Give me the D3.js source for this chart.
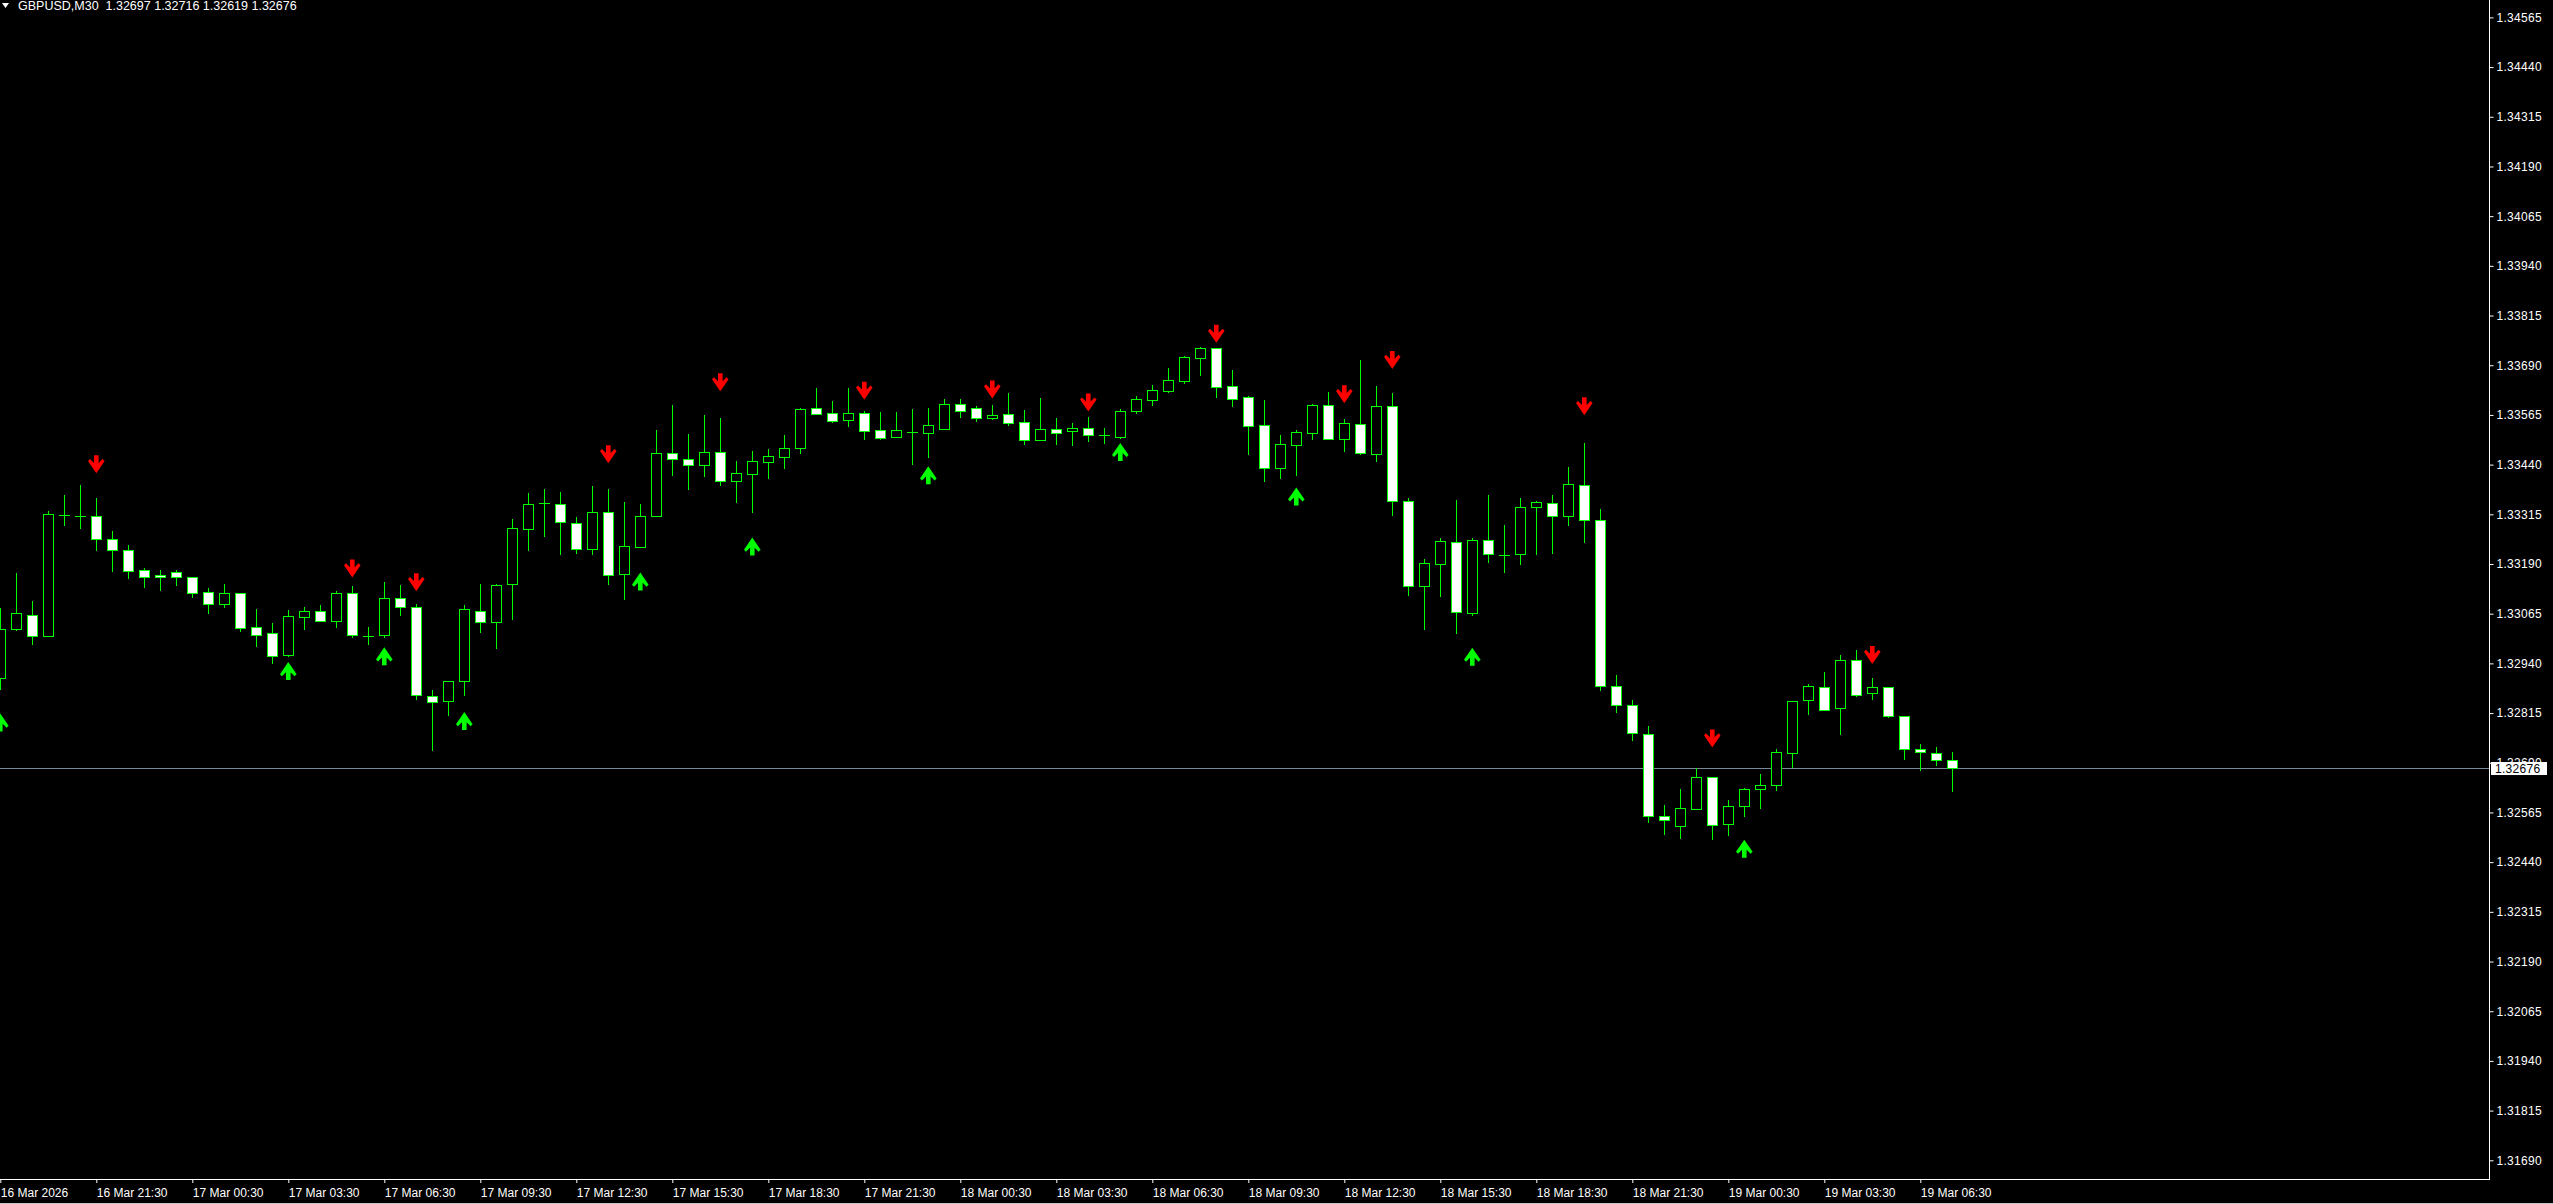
<!DOCTYPE html>
<html><head><meta charset="utf-8">
<script src="https://cdn.jsdelivr.net/npm/d3@7"></script>
<style>html,body{margin:0;padding:0;background:#000;overflow:hidden}svg{display:block}</style>
</head><body><svg id="c" width="2553" height="1204"></svg>
<script>
// ---------------- DATA ----------------
const symbolTitle = "GBPUSD,M30";
const headerOHLC = [1.32697, 1.32716, 1.32619, 1.32676];
const firstBarTime = "2026-03-16 18:30";
const opens = [1.32902,1.33027,1.33061,1.33010,1.33313,1.33312,1.33312,1.33252,1.33224,1.33174,
1.33162,1.33169,1.33157,1.33119,1.33090,1.33116,1.33031,1.33016,1.32962,1.33057,
1.33071,1.33047,1.33116,1.33010,1.33011,1.33104,1.33081,1.32859,1.32845,1.32895,
1.33072,1.33043,1.33139,1.33277,1.33343,1.33342,1.33294,1.33228,1.33321,1.33164,
1.33234,1.33312,1.33468,1.33455,1.33440,1.33471,1.33400,1.33417,1.33447,1.33460,
1.33482,1.33582,1.33569,1.33553,1.33569,1.33526,1.33510,1.33521,1.33520,1.33530,
1.33592,1.33582,1.33558,1.33567,1.33546,1.33503,1.33529,1.33525,1.33532,1.33514,
1.33509,1.33576,1.33603,1.33626,1.33651,1.33709,1.33733,1.33637,1.33609,1.33539,
1.33432,1.33490,1.33520,1.33589,1.33505,1.33541,1.33467,1.33587,1.33348,1.33135,
1.33191,1.33245,1.33067,1.33250,1.33213,1.33214,1.33333,1.33343,1.33312,1.33388,
1.33300,1.32883,1.32835,1.32762,1.32555,1.32532,1.32574,1.32653,1.32535,1.32580,
1.32623,1.32633,1.32714,1.32847,1.32880,1.32827,1.32948,1.32865,1.32880,1.32807,
1.32724,1.32714,1.32697];
const highs = [1.33079,1.33167,1.33096,1.33323,1.33364,1.33389,1.33356,1.33273,1.33237,1.33180,
1.33175,1.33175,1.33157,1.33130,1.33140,1.33118,1.33077,1.33042,1.33074,1.33081,
1.33087,1.33122,1.33135,1.33031,1.33144,1.33136,1.33089,1.32873,1.32896,1.33086,
1.33140,1.33139,1.33302,1.33368,1.33378,1.33370,1.33307,1.33386,1.33378,1.33345,
1.33341,1.33527,1.33590,1.33517,1.33565,1.33557,1.33449,1.33474,1.33479,1.33514,
1.33582,1.33633,1.33600,1.33633,1.33575,1.33572,1.33572,1.33580,1.33582,1.33605,
1.33605,1.33587,1.33590,1.33620,1.33577,1.33608,1.33557,1.33545,1.33560,1.33532,
1.33579,1.33613,1.33640,1.33683,1.33712,1.33735,1.33734,1.33678,1.33613,1.33603,
1.33514,1.33527,1.33592,1.33623,1.33555,1.33703,1.33638,1.33620,1.33355,1.33203,
1.33255,1.33351,1.33255,1.33364,1.33288,1.33356,1.33348,1.33364,1.33434,1.33494,
1.33328,1.32911,1.32848,1.32782,1.32583,1.32624,1.32676,1.32654,1.32596,1.32626,
1.32663,1.32724,1.32846,1.32887,1.32918,1.32961,1.32974,1.32902,1.32881,1.32808,
1.32737,1.32730,1.32716];
const lows = [1.32875,1.33024,1.32989,1.33010,1.33288,1.33281,1.33225,1.33173,1.33156,1.33133,
1.33125,1.33138,1.33108,1.33067,1.33083,1.33022,1.32984,1.32942,1.32959,1.33026,
1.33046,1.33032,1.33006,1.32989,1.33007,1.33062,1.32851,1.32722,1.32810,1.32861,
1.33020,1.32979,1.33052,1.33226,1.33261,1.33216,1.33218,1.33216,1.33140,1.33103,
1.33234,1.33312,1.33414,1.33379,1.33412,1.33389,1.33346,1.33321,1.33407,1.33432,
1.33470,1.33567,1.33547,1.33537,1.33504,1.33504,1.33510,1.33441,1.33459,1.33530,
1.33560,1.33550,1.33555,1.33540,1.33492,1.33503,1.33492,1.33489,1.33500,1.33495,
1.33507,1.33570,1.33590,1.33623,1.33646,1.33665,1.33610,1.33587,1.33467,1.33399,
1.33407,1.33414,1.33505,1.33504,1.33474,1.33467,1.33449,1.33314,1.33112,1.33026,
1.33110,1.33017,1.33062,1.33196,1.33171,1.33191,1.33216,1.33218,1.33289,1.33246,
1.32873,1.32818,1.32747,1.32542,1.32512,1.32501,1.32573,1.32499,1.32509,1.32557,
1.32577,1.32622,1.32680,1.32813,1.32823,1.32763,1.32859,1.32851,1.32806,1.32699,
1.32672,1.32684,1.32619];
const closes = [1.33026,1.33066,1.33010,1.33315,1.33313,1.33312,1.33252,1.33224,1.33173,1.33157,
1.33157,1.33157,1.33118,1.33090,1.33116,1.33030,1.33012,1.32959,1.33058,1.33071,
1.33047,1.33116,1.33011,1.33010,1.33104,1.33081,1.32860,1.32842,1.32895,1.33076,
1.33043,1.33136,1.33280,1.33340,1.33343,1.33295,1.33229,1.33320,1.33162,1.33236,
1.33312,1.33468,1.33455,1.33438,1.33471,1.33400,1.33418,1.33448,1.33461,1.33483,
1.33579,1.33568,1.33550,1.33569,1.33525,1.33508,1.33526,1.33521,1.33539,1.33592,
1.33576,1.33558,1.33564,1.33545,1.33503,1.33529,1.33520,1.33532,1.33515,1.33514,
1.33574,1.33604,1.33627,1.33652,1.33710,1.33733,1.33636,1.33606,1.33538,1.33432,
1.33491,1.33521,1.33589,1.33505,1.33544,1.33470,1.33587,1.33349,1.33134,1.33192,
1.33247,1.33070,1.33250,1.33214,1.33213,1.33333,1.33345,1.33312,1.33390,1.33300,
1.32883,1.32835,1.32765,1.32557,1.32545,1.32575,1.32653,1.32533,1.32580,1.32623,
1.32633,1.32716,1.32845,1.32882,1.32824,1.32948,1.32861,1.32880,1.32807,1.32724,
1.32716,1.32696,1.32676];
// signal arrows (bar index, price level of arrow centre)
const sellBars   = [6,22,26,38,45,54,62,68,76,84,87,99,107,117];
const sellLevels = [1.33441,1.33179,1.33144,1.33466,1.33647,1.33626,1.33629,1.33596,1.33769,1.33617,1.33703,1.33587,1.32751,1.32961];
const buyBars    = [0,18,24,29,40,47,58,70,81,92,109];
const buyLevels  = [1.32791,1.32921,1.32958,1.32795,1.33146,1.33234,1.33413,1.33472,1.33360,1.32957,1.32474];
const priceTicks = [1.34565,1.34440,1.34315,1.34190,1.34065,1.33940,1.33815,1.33690,1.33565,1.33440,
1.33315,1.33190,1.33065,1.32940,1.32815,1.32690,1.32565,1.32440,1.32315,1.32190,1.32065,1.31940,1.31815,1.31690];
const timeTickBars   = [0,6,12,18,24,30,36,42,48,54,60,66,72,78,84,90,96,102,108,114,120];
const timeTickLabels = ["16 Mar 2026","16 Mar 21:30","17 Mar 00:30","17 Mar 03:30","17 Mar 06:30","17 Mar 09:30",
"17 Mar 12:30","17 Mar 15:30","17 Mar 18:30","17 Mar 21:30","18 Mar 00:30","18 Mar 03:30","18 Mar 06:30",
"18 Mar 09:30","18 Mar 12:30","18 Mar 15:30","18 Mar 18:30","18 Mar 21:30","19 Mar 00:30","19 Mar 03:30","19 Mar 06:30"];
const bidPrice = 1.32676;

// ---------------- LAYOUT ----------------
const W = 2553, H = 1204, plotRight = 2489, plotBottom = 1179;
const FONT = "'Liberation Sans', Arial, sans-serif";
const parse = d3.timeParse("%Y-%m-%d %H:%M");
const fmt = d3.timeFormat("%Y-%m-%d %H:%M");
const t0 = parse(firstBarTime);
const categories = opens.map((_, i) => fmt(d3.timeMinute.offset(t0, 30 * i)));
const bars = categories.map((t, i) => ({t, o: opens[i], h: highs[i], l: lows[i], c: closes[i]}));

const x = d3.scalePoint().domain(categories).range([0.3, 0.3 + 16 * (categories.length - 1)]);
const y = d3.scaleLinear().domain([1.31690, 1.34565]).range([1160.3, 17.4]);

const svg = d3.select("#c");
svg.append("rect").attr("width", W).attr("height", H).attr("fill", "#000");
svg.append("defs").append("clipPath").attr("id", "plot")
  .append("rect").attr("x", 0).attr("y", 0).attr("width", plotRight).attr("height", plotBottom);

const plot = svg.append("g").attr("clip-path", "url(#plot)");

// bid line
plot.append("line")
  .attr("x1", 0).attr("x2", plotRight)
  .attr("y1", Math.round(y(bidPrice)) + 0.5).attr("y2", Math.round(y(bidPrice)) + 0.5)
  .attr("stroke", "#778899").attr("stroke-width", 1);

const px = v => Math.round(v) + 0.5;
const cg = plot.append("g");
// wicks
cg.selectAll("line.wick").data(bars).join("line").attr("class", "wick")
  .attr("x1", d => px(x(d.t))).attr("x2", d => px(x(d.t)))
  .attr("y1", d => Math.round(y(d.h))).attr("y2", d => Math.round(y(d.l)) + 1)
  .attr("stroke", "#00ff00").attr("stroke-width", 1);
// bodies
const bodyBars = bars.filter(d => Math.abs(Math.round(y(d.o)) - Math.round(y(d.c))) >= 1);
const dojiBars = bars.filter(d => Math.abs(Math.round(y(d.o)) - Math.round(y(d.c))) < 1);
cg.selectAll("rect.body").data(bodyBars).join("rect").attr("class", "body")
  .attr("x", d => px(x(d.t)) - 5)
  .attr("width", 10)
  .attr("y", d => px(y(Math.max(d.o, d.c))))
  .attr("height", d => Math.round(y(Math.min(d.o, d.c))) - Math.round(y(Math.max(d.o, d.c))))
  .attr("fill", d => d.c < d.o ? "#ffffff" : "#000000")
  .attr("stroke", "#00ff00").attr("stroke-width", 1);
cg.selectAll("line.doji").data(dojiBars).join("line").attr("class", "doji")
  .attr("x1", d => px(x(d.t)) - 5.5).attr("x2", d => px(x(d.t)) + 5.5)
  .attr("y1", d => px(y(d.o))).attr("y2", d => px(y(d.o)))
  .attr("stroke", "#00ff00").attr("stroke-width", 1);

// arrows
const downArrow = "M-2.3,-9L2.3,-9L2.3,-1.2L6.3,-5.2L8.3,-3.2L0,9L-8.3,-3.2L-6.3,-5.2L-2.3,-1.2Z";
const upArrow = "M-2.3,9L2.3,9L2.3,1.2L6.3,5.2L8.3,3.2L0,-9L-8.3,3.2L-6.3,5.2L-2.3,1.2Z";
plot.selectAll("path.sell").data(sellBars.map((b, i) => ({b, v: sellLevels[i]}))).join("path")
  .attr("class", "sell").attr("d", downArrow)
  .attr("transform", d => `translate(${x(categories[d.b])},${y(d.v)})`)
  .attr("fill", "#ff0000");
plot.selectAll("path.buy").data(buyBars.map((b, i) => ({b, v: buyLevels[i]}))).join("path")
  .attr("class", "buy").attr("d", upArrow)
  .attr("transform", d => `translate(${x(categories[d.b])},${y(d.v)})`)
  .attr("fill", "#00ff00");

// frame
svg.append("line").attr("x1", plotRight + 0.5).attr("x2", plotRight + 0.5).attr("y1", 0).attr("y2", plotBottom + 1)
  .attr("stroke", "#fff");
svg.append("line").attr("x1", 0).attr("x2", plotRight + 1).attr("y1", plotBottom + 0.5).attr("y2", plotBottom + 0.5)
  .attr("stroke", "#fff");

// price axis
const yAxis = d3.axisRight(y).tickValues(priceTicks).tickFormat(d3.format(".5f")).tickSize(4).tickPadding(3);
const ya = svg.append("g").attr("transform", `translate(${plotRight + 0.5},0)`).call(yAxis);
ya.select(".domain").remove();
ya.selectAll(".tick line").attr("stroke", "#fff");
ya.selectAll(".tick text").attr("fill", "#fff").attr("font-family", FONT).attr("font-size", 12)
  .attr("letter-spacing", 0.3);

// bid label (covers the nearby tick label as in the terminal)
const by = y(bidPrice);
svg.append("rect").attr("x", plotRight + 2).attr("y", Math.round(by) - 6).attr("width", 56).attr("height", 13).attr("fill", "#fff");
svg.append("text").attr("x", plotRight + 6).attr("y", by).attr("dy", "0.35em")
  .attr("fill", "#000").attr("font-family", FONT).attr("font-size", 12).attr("letter-spacing", 0.3)
  .text(d3.format(".5f")(bidPrice));

// time axis
const tickCats = timeTickBars.map(b => categories[b]);
const xAxis = d3.axisBottom(x).tickValues(tickCats)
  .tickFormat((d, i) => timeTickLabels[i]).tickSize(4).tickPadding(5);
const xa = svg.append("g").attr("transform", `translate(0,${plotBottom})`).call(xAxis);
xa.select(".domain").remove();
xa.selectAll(".tick line").attr("stroke", "#fff");
xa.selectAll(".tick text").attr("fill", "#fff").attr("font-family", FONT).attr("font-size", 12)
  .attr("text-anchor", "start").attr("dx", "0");

// header
svg.append("path").attr("d", "M2,3L9,3L5.5,8Z").attr("fill", "#fff");
svg.append("text").attr("x", 18).attr("y", 10).attr("fill", "#fff").attr("font-family", FONT).attr("font-size", 12.5)
  .attr("xml:space", "preserve")
  .text(symbolTitle + "  " + headerOHLC.map(d3.format(".5f")).join(" "));

// window bottom edge
svg.append("rect").attr("x", 0).attr("y", H - 1).attr("width", W).attr("height", 1).attr("fill", "#c8c8c8");
</script>
</body></html>
